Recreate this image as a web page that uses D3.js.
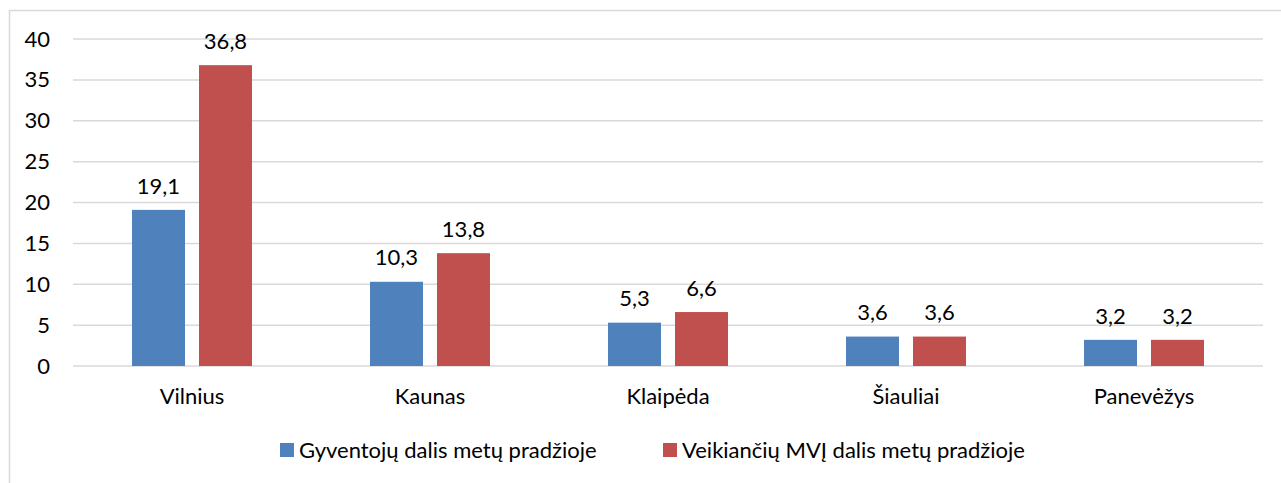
<!DOCTYPE html>
<html>
<head>
<meta charset="utf-8">
<script src="https://cdn.jsdelivr.net/npm/d3@7"></script>
<style>
  html, body { margin: 0; padding: 0; background: #fff; }
  svg { display: block; font-family: Lato, "Open Sans", sans-serif; }
</style>
</head>
<body>
<svg id="chart" width="1281" height="483"></svg>
<script>
const categories = ["Vilnius", "Kaunas", "Klaipėda", "Šiauliai", "Panevėžys"];
const seriesNames = ["Gyventojų dalis metų pradžioje", "Veikiančių MVĮ dalis metų pradžioje"];
const population = [19.1, 10.3, 5.3, 3.6, 3.2];
const sme = [36.8, 13.8, 6.6, 3.6, 3.2];
const yTicks = [0, 5, 10, 15, 20, 25, 30, 35, 40];
const colors = ["#4F81BD", "#C0504D"];

const svg = d3.select("#chart");
const fontSize = 22;
const ff = "Lato, sans-serif";

// chart border
svg.append("rect").attr("x", 9.5).attr("y", 10.5).attr("width", 1290).attr("height", 500)
  .attr("fill", "none").attr("stroke", "#d9d9d9").attr("stroke-width", 1.5);

const x0 = d3.scaleBand().domain(categories).range([73, 1263]).paddingInner(0).paddingOuter(0);
const y = d3.scaleLinear().domain([0, 40]).range([366, 39]);

// gridlines
svg.append("g").selectAll("line").data(yTicks).join("line")
  .attr("x1", 73).attr("x2", 1263)
  .attr("y1", d => y(d)).attr("y2", d => y(d))
  .attr("stroke", "#d9d9d9").attr("stroke-width", 1.5);

// y axis labels
const yAxis = d3.axisLeft(y).tickValues(yTicks).tickSize(0).tickPadding(0);
const ya = svg.append("g").attr("transform", "translate(50,0)").call(yAxis);
ya.select(".domain").remove();
ya.selectAll("text").attr("font-size", fontSize).attr("fill", "#000").attr("font-family", ff);

// inner band for series
const x1 = d3.scaleBand().domain([0, 1]).range([59, 238 - 59]).paddingInner(0.209);

const data = categories.map((c, i) => ({ cat: c, vals: [population[i], sme[i]] }));

const groups = svg.append("g").selectAll("g").data(data).join("g")
  .attr("transform", d => `translate(${x0(d.cat)},0)`);

groups.selectAll("rect").data(d => d.vals.map((v, k) => ({ v, k }))).join("rect")
  .attr("x", d => x1(d.k))
  .attr("width", x1.bandwidth())
  .attr("y", d => y(d.v))
  .attr("height", d => y(0) - y(d.v))
  .attr("fill", d => colors[d.k]);

groups.selectAll("text.val").data(d => d.vals.map((v, k) => ({ v, k }))).join("text")
  .attr("class", "val")
  .attr("x", d => x1(d.k) + x1.bandwidth() / 2)
  .attr("y", d => y(d.v) - 24)
  .attr("dy", "0.35em")
  .attr("text-anchor", "middle")
  .attr("font-size", fontSize)
  .attr("font-family", ff)
  .text(d => d.v.toFixed(1).replace(".", ","));

// x axis labels
const xAxis = d3.axisBottom(x0).tickSize(0).tickPadding(0);
const xa = svg.append("g").attr("transform", "translate(0,396)").call(xAxis);
xa.select(".domain").remove();
xa.selectAll("text").attr("y", 0).attr("dy", "0.35em")
  .attr("font-size", fontSize).attr("fill", "#000").attr("font-family", ff);

// legend
const legendX = [280, 663];
const lg = svg.append("g").selectAll("g").data(seriesNames).join("g")
  .attr("transform", (d, i) => `translate(${legendX[i]},443)`);
lg.append("rect").attr("width", 14).attr("height", 14).attr("fill", (d, i) => colors[i]);
lg.append("text").attr("x", 19).attr("y", 7).attr("dy", "0.35em")
  .attr("font-size", fontSize).attr("font-family", ff).text(d => d);
</script>
</body>
</html>
